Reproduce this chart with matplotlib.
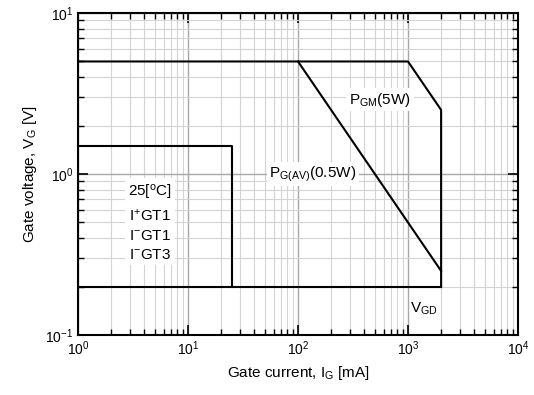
import matplotlib
matplotlib.use("Agg")
import matplotlib.pyplot as plt
from matplotlib.ticker import LogLocator, NullFormatter

plt.rcParams['font.family'] = ['Liberation Sans', 'DejaVu Sans']
plt.rcParams['mathtext.fontset'] = 'custom'
plt.rcParams['mathtext.rm'] = 'Liberation Sans'
plt.rcParams['mathtext.it'] = 'Liberation Sans'
plt.rcParams['mathtext.default'] = 'rm'

# Data (current in mA, voltage in V)
vgm_i = [1, 1000, 2000, 2000]          # peak gate voltage + PGM(5W) + IGM limit
vgm_v = [5, 5, 2.5, 0.2]
pgav_i = [100, 2000]                   # PG(AV) 0.5 W line
pgav_v = [5, 0.25]
vgd_i = [1, 2000]                      # VGD line
vgd_v = [0.2, 0.2]
igt_i = [1, 25, 25]                    # IGT / VGT box
igt_v = [1.5, 1.5, 0.2]

fig = plt.figure(figsize=(5.34, 3.95), dpi=100)
ax = fig.add_axes([78/534, 60/395, 440/534, 322/395])
ax.set_xscale('log')
ax.set_yscale('log')
ax.set_xlim(1, 1e4)
ax.set_ylim(0.1, 10)

ax.xaxis.set_minor_locator(LogLocator(base=10, subs=range(2, 10)))
ax.yaxis.set_minor_locator(LogLocator(base=10, subs=range(2, 10)))
ax.xaxis.set_minor_formatter(NullFormatter())
ax.yaxis.set_minor_formatter(NullFormatter())

ax.grid(True, which='major', color='#a8a8a8', linewidth=1.0)
ax.grid(True, which='minor', color='#d4d4d4', linewidth=0.8)
ax.set_axisbelow(True)

ax.tick_params(which='both', direction='in', top=True, right=True, labelsize=10)
ax.tick_params(which='major', length=7, width=1.2)
ax.tick_params(which='minor', length=4, width=1.0)
for s in ax.spines.values():
    s.set_linewidth(1.5)

lw = 1.5
ax.plot(vgm_i, vgm_v, color='black', lw=lw)
ax.plot(pgav_i, pgav_v, color='black', lw=lw)
ax.plot(vgd_i, vgd_v, color='black', lw=lw)
ax.plot(igt_i, igt_v, color='black', lw=lw)

box = dict(facecolor='white', edgecolor='none', pad=2)
fs = 11
ax.text(556, 2.9, r'P$_{\mathrm{GM}}$(5W)', fontsize=fs, ha='center', va='center', bbox=box)
ax.text(137, 1.0, r'P$_{\mathrm{G(AV)}}$(0.5W)', fontsize=fs, ha='center', va='center', bbox=box)
ax.text(4.5, 0.5, '25[$^{\\mathrm{o}}$C]\nI$^{+}$GT1\nI$^{-}$GT1\nI$^{-}$GT3',
        fontsize=fs, ha='center', va='center', linespacing=1.45, bbox=box)
ax.text(1400, 0.145, r'V$_{\mathrm{GD}}$', fontsize=fs, ha='center', va='center')

ax.set_xlabel(r'Gate current, I$_{\mathrm{G}}$ [mA]', fontsize=fs)
ax.set_ylabel(r'Gate voltage, V$_{\mathrm{G}}$ [V]', fontsize=fs)

fig.savefig('out.png', dpi=100)
